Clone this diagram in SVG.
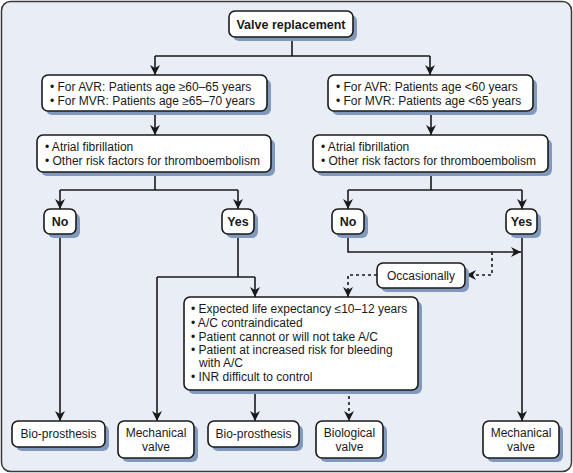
<svg xmlns="http://www.w3.org/2000/svg" width="573" height="473" viewBox="0 0 573 473">
<defs>
<marker id="ah" viewBox="0 0 10 10" refX="10" refY="5" markerWidth="10" markerHeight="10" markerUnits="userSpaceOnUse" orient="auto">
<path d="M0,0 L10,5 L0,10 L3,5 Z" fill="#1a1a1a"/>
</marker>
</defs>
<style>
.box{fill:#fff;stroke:#1a1a1a;stroke-width:1.6}
.sh{fill:#8099bd}
.t{font-family:"Liberation Sans",Arial,sans-serif;font-size:12px;fill:#1a1a1a}
.b{font-weight:bold;font-size:12.5px}
.c{text-anchor:middle}
.ln{fill:none;stroke:#1a1a1a;stroke-width:1.6}
.d{stroke-dasharray:3,3}
</style>
<rect x="1.5" y="1.5" width="570" height="470" rx="9" fill="#e9eef6" stroke="#3a3a3a" stroke-width="1.5"/>
<g id="connectors">
<path class="ln" d="M292,37 V56 M155,56 H430"/>
<path class="ln" d="M155,56 V75" marker-end="url(#ah)"/>
<path class="ln" d="M430,56 V75" marker-end="url(#ah)"/>
<path class="ln" d="M155,111 V135" marker-end="url(#ah)"/>
<path class="ln" d="M431,111 V135" marker-end="url(#ah)"/>
<path class="ln" d="M155,172 V190 M60,190 H238"/>
<path class="ln" d="M60,190 V209" marker-end="url(#ah)"/>
<path class="ln" d="M238,190 V209" marker-end="url(#ah)"/>
<path class="ln" d="M431,172 V190 M348,190 H522"/>
<path class="ln" d="M348,190 V209" marker-end="url(#ah)"/>
<path class="ln" d="M522,190 V209" marker-end="url(#ah)"/>
<path class="ln" d="M60,234 V421" marker-end="url(#ah)"/>
<path class="ln" d="M238,234 V277 M157,277 H255"/>
<path class="ln" d="M157,277 V421" marker-end="url(#ah)"/>
<path class="ln" d="M255,277 V297" marker-end="url(#ah)"/>
<path class="ln" d="M348,234 V252 H521" marker-end="url(#ah)"/>
<path class="ln" d="M522,234 V421" marker-end="url(#ah)"/>
<path class="ln d" d="M492,252 V275 H466" marker-end="url(#ah)"/>
<path class="ln d" d="M377,275 H348 V297" marker-end="url(#ah)"/>
<path class="ln" d="M255,390 V421" marker-end="url(#ah)"/>
<path class="ln d" d="M349,390 V421" marker-end="url(#ah)"/>
</g>
<g id="valve-replacement">
<rect class="sh" x="233" y="15" width="124" height="26" rx="6"/>
<rect class="box" x="229" y="11" width="124" height="26" rx="6"/>
<text class="t b c" x="291" y="29">Valve replacement</text>
</g>
<g id="older-age">
<rect class="sh" x="46" y="79" width="225" height="36" rx="6"/>
<rect class="box" x="42" y="75" width="225" height="36" rx="6"/>
<text class="t" x="50" y="91">• For AVR: Patients age ≥60–65 years</text>
<text class="t" x="50" y="105">• For MVR: Patients age ≥65–70 years</text>
</g>
<g id="younger-age">
<rect class="sh" x="332" y="79" width="205" height="36" rx="6"/>
<rect class="box" x="328" y="75" width="205" height="36" rx="6"/>
<text class="t" x="336" y="91">• For AVR: Patients age &lt;60 years</text>
<text class="t" x="336" y="105">• For MVR: Patients age &lt;65 years</text>
</g>
<g id="risk-left">
<rect class="sh" x="41" y="139" width="234" height="37" rx="6"/>
<rect class="box" x="37" y="135" width="234" height="37" rx="6"/>
<text class="t" x="45" y="151">• Atrial fibrillation</text>
<text class="t" x="45" y="165">• Other risk factors for thromboembolism</text>
</g>
<g id="risk-right">
<rect class="sh" x="317" y="139" width="235" height="37" rx="6"/>
<rect class="box" x="313" y="135" width="235" height="37" rx="6"/>
<text class="t" x="321" y="151">• Atrial fibrillation</text>
<text class="t" x="321" y="165">• Other risk factors for thromboembolism</text>
</g>
<g id="no-left">
<rect class="sh" x="48" y="213" width="32" height="25" rx="6"/>
<rect class="box" x="44" y="209" width="32" height="25" rx="6"/>
<text class="t b c" x="60" y="226">No</text>
</g>
<g id="yes-left">
<rect class="sh" x="226" y="213" width="32" height="25" rx="6"/>
<rect class="box" x="222" y="209" width="32" height="25" rx="6"/>
<text class="t b c" x="238" y="226">Yes</text>
</g>
<g id="no-right">
<rect class="sh" x="336" y="213" width="32" height="25" rx="6"/>
<rect class="box" x="332" y="209" width="32" height="25" rx="6"/>
<text class="t b c" x="348" y="226">No</text>
</g>
<g id="yes-right">
<rect class="sh" x="510" y="213" width="31" height="25" rx="6"/>
<rect class="box" x="506" y="209" width="31" height="25" rx="6"/>
<text class="t b c" x="521.5" y="226">Yes</text>
</g>
<g id="occasionally">
<rect class="sh" x="381" y="267" width="88" height="25" rx="6"/>
<rect class="box" x="377" y="263" width="88" height="25" rx="6"/>
<text class="t c" x="421" y="280">Occasionally</text>
</g>
<g id="criteria">
<rect class="sh" x="188" y="301" width="234" height="93" rx="6"/>
<rect class="box" x="184" y="297" width="234" height="93" rx="6"/>
<text class="t" x="191" y="313">• Expected life expectancy ≤10–12 years</text>
<text class="t" x="191" y="327">• A/C contraindicated</text>
<text class="t" x="191" y="341">• Patient cannot or will not take A/C</text>
<text class="t" x="191" y="354">• Patient at increased risk for bleeding</text>
<text class="t" x="199" y="367">with A/C</text>
<text class="t" x="191" y="381">• INR difficult to control</text>
</g>
<g id="bio-1">
<rect class="sh" x="16" y="425" width="93" height="26" rx="6"/>
<rect class="box" x="12" y="421" width="93" height="26" rx="6"/>
<text class="t c" x="58.5" y="438">Bio-prosthesis</text>
</g>
<g id="mech-1">
<rect class="sh" x="122" y="425" width="76" height="37" rx="6"/>
<rect class="box" x="118" y="421" width="76" height="37" rx="6"/>
<text class="t c" x="156" y="437">Mechanical</text>
<text class="t c" x="156" y="451">valve</text>
</g>
<g id="bio-2">
<rect class="sh" x="212" y="425" width="91" height="26" rx="6"/>
<rect class="box" x="208" y="421" width="91" height="26" rx="6"/>
<text class="t c" x="253.5" y="438">Bio-prosthesis</text>
</g>
<g id="biological">
<rect class="sh" x="320" y="425" width="67" height="37" rx="6"/>
<rect class="box" x="316" y="421" width="67" height="37" rx="6"/>
<text class="t c" x="349.5" y="437">Biological</text>
<text class="t c" x="349.5" y="451">valve</text>
</g>
<g id="mech-2">
<rect class="sh" x="487" y="425" width="76" height="37" rx="6"/>
<rect class="box" x="483" y="421" width="76" height="37" rx="6"/>
<text class="t c" x="521" y="437">Mechanical</text>
<text class="t c" x="521" y="451">valve</text>
</g>
</svg>
